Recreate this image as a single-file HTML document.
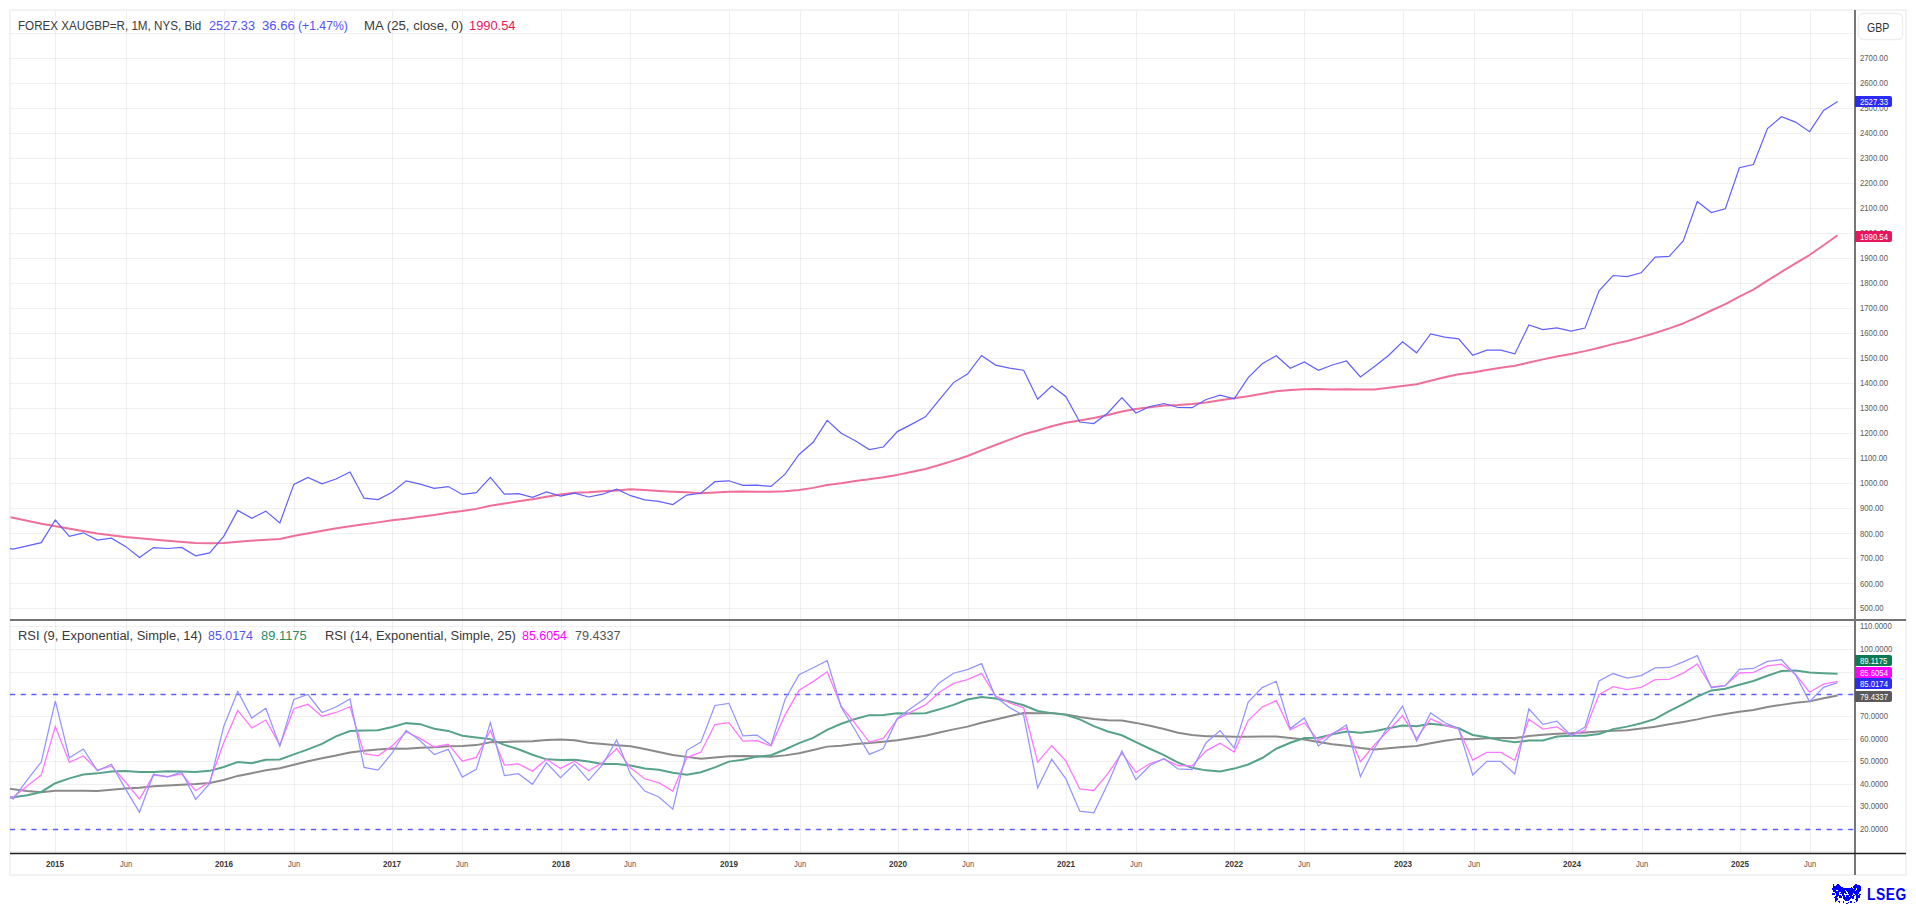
<!DOCTYPE html><html><head><meta charset="utf-8"><style>
html,body{margin:0;padding:0;background:#fff;width:1916px;height:905px;overflow:hidden}
body{position:relative;font-family:"Liberation Sans",sans-serif}
.t{position:absolute;white-space:nowrap;line-height:12px;font-size:12px;transform-origin:0 0}
.ax{position:absolute;left:1860px;font-size:9px;color:#5a5a5a;white-space:nowrap;line-height:9px;transform:scaleX(0.86);transform-origin:0 0}
.tag{position:absolute;left:1855px;width:37px;height:11px;border-radius:0 2px 2px 0}
.tg{position:absolute;left:1860.3px;font-size:9px;line-height:9px;color:#fff;white-space:nowrap;transform-origin:0 0}
.tl{position:absolute;font-size:9px;line-height:9px;white-space:nowrap;transform-origin:0 0}
</style></head><body>

<svg width="1916" height="905" style="position:absolute;left:0;top:0">
<defs><clipPath id="cp"><rect x="10" y="11" width="1844.5" height="608"/></clipPath><clipPath id="cr"><rect x="10" y="621" width="1844.5" height="232"/></clipPath></defs>
<rect x="10" y="10" width="1896" height="865" fill="none" stroke="#f2f2f2" stroke-width="2"/>
<path d="M10 608.5 H1854 M10 583.5 H1854 M10 558.5 H1854 M10 533.5 H1854 M10 508.5 H1854 M10 483.5 H1854 M10 458.5 H1854 M10 433.5 H1854 M10 408.5 H1854 M10 383.5 H1854 M10 358.5 H1854 M10 333.5 H1854 M10 308.5 H1854 M10 283.5 H1854 M10 258.5 H1854 M10 233.5 H1854 M10 208.5 H1854 M10 183.5 H1854 M10 158.5 H1854 M10 133.5 H1854 M10 108.5 H1854 M10 83.5 H1854 M10 58.5 H1854 M10 33.5 H1854 M10 626.5 H1854 M10 649.5 H1854 M10 672.5 H1854 M10 694.5 H1854 M10 716.5 H1854 M10 739.5 H1854 M10 761.5 H1854 M10 784.5 H1854 M10 806.5 H1854 M10 829.5 H1854 M10 851.5 H1854" stroke="#000" stroke-opacity="0.058" stroke-width="1" fill="none"/>
<path d="M55.5 11 V619 M55.5 621 V853 M126.5 11 V619 M126.5 621 V853 M224.5 11 V619 M224.5 621 V853 M294.5 11 V619 M294.5 621 V853 M392.5 11 V619 M392.5 621 V853 M462.5 11 V619 M462.5 621 V853 M561.5 11 V619 M561.5 621 V853 M630.5 11 V619 M630.5 621 V853 M729.5 11 V619 M729.5 621 V853 M800.5 11 V619 M800.5 621 V853 M898.5 11 V619 M898.5 621 V853 M968.5 11 V619 M968.5 621 V853 M1066.5 11 V619 M1066.5 621 V853 M1136.5 11 V619 M1136.5 621 V853 M1234.5 11 V619 M1234.5 621 V853 M1304.5 11 V619 M1304.5 621 V853 M1403.5 11 V619 M1403.5 621 V853 M1474.5 11 V619 M1474.5 621 V853 M1572.5 11 V619 M1572.5 621 V853 M1642.5 11 V619 M1642.5 621 V853 M1740.5 11 V619 M1740.5 621 V853 M1810.5 11 V619 M1810.5 621 V853" stroke="#000" stroke-opacity="0.058" stroke-width="1" fill="none"/>
<path d="M10 694.5 H1854" stroke="#5c5cff" stroke-width="1.4" stroke-dasharray="5 5.75" fill="none"/>
<path d="M10 829.5 H1854" stroke="#5c5cff" stroke-width="1.4" stroke-dasharray="5 5.75" fill="none"/>
<g clip-path="url(#cp)">
<path d="M10.6 517.3 L41.4 523.8 L97.1 533.6 L125.3 537 L167.3 540.7 L195.5 542.9 L210.5 543.2 L223.7 543 L250 540.8 L279.9 538.9 L294.5 535.8 L336.5 528.3 L350.01 526.27 L364.05 524.23 L378.08 522.38 L392.12 520.36 L406.15 518.8 L420.18 516.71 L434.22 514.93 L448.25 512.79 L462.29 511.04 L476.32 508.88 L490.35 505.68 L504.39 503.54 L518.42 501.35 L532.46 499.34 L546.49 496.79 L560.52 494.52 L574.56 492.8 L588.59 492.26 L602.63 491.3 L616.66 490.42 L630.69 489.33 L644.73 489.95 L658.76 490.9 L672.8 491.73 L686.83 492.37 L700.86 493.22 L714.9 492.56 L728.93 491.81 L742.97 491.54 L757 491.71 L771.03 491.8 L785.07 491.24 L799.1 489.96 L813.14 487.87 L827.17 484.98 L841.2 483.22 L855.24 481.08 L869.27 479.32 L883.31 477.3 L897.34 474.89 L911.37 472.02 L925.41 468.96 L939.44 465.07 L953.48 460.6 L967.51 456 L981.54 450.39 L995.58 445 L1009.61 439.68 L1023.65 434.31 L1037.68 430.48 L1051.71 426.19 L1065.75 422.78 L1079.78 420.43 L1093.82 417.96 L1107.85 415.07 L1121.88 411.52 L1135.92 409.07 L1149.95 407.15 L1163.99 405.6 L1178.02 405.08 L1192.05 404.06 L1206.09 402.41 L1220.12 400.24 L1234.16 398.31 L1248.19 396.15 L1262.22 393.72 L1276.26 391.28 L1290.29 390.02 L1304.33 389.2 L1318.36 389.05 L1332.39 389.43 L1346.43 389.27 L1360.46 389.62 L1374.5 389.47 L1388.53 387.72 L1402.56 385.94 L1416.6 384.19 L1430.63 380.67 L1444.67 377.21 L1458.7 374.25 L1472.73 372.55 L1486.77 370.04 L1500.8 367.79 L1514.84 365.8 L1528.87 362.5 L1542.9 359.38 L1556.94 356.51 L1570.97 353.96 L1585.01 351.13 L1599.04 347.66 L1613.07 344.13 L1627.11 340.97 L1641.14 337.15 L1655.18 332.96 L1669.21 328.4 L1683.24 323.44 L1697.28 317.06 L1711.31 310.48 L1725.35 304.17 L1739.38 296.66 L1753.41 289.57 L1767.45 280.6 L1781.48 271.91 L1795.52 263.31 L1809.55 255.02 L1823.58 245.23 L1837.62 235.28" stroke="#ef6f99" stroke-width="2" fill="none" stroke-linejoin="round"/>
<path d="M-0.84 546.2 L13.2 549.2 L27.23 545.9 L41.27 542.6 L55.3 520 L69.33 536.3 L83.37 532.8 L97.4 540.1 L111.44 538.2 L125.47 546.4 L139.5 557.4 L153.54 547.6 L167.57 548.5 L181.61 547.4 L195.64 555.8 L209.67 552.9 L223.71 536.3 L237.74 510.4 L251.78 518.2 L265.81 511.1 L279.84 522.9 L293.88 484.4 L307.91 477.5 L321.95 483.8 L335.98 479 L350.01 472 L364.05 498.2 L378.08 499.6 L392.12 492.3 L406.15 480.8 L420.18 484.1 L434.22 488.3 L448.25 486.6 L462.29 494.4 L476.32 492.6 L490.35 477.3 L504.39 494.2 L518.42 493.6 L532.46 497.3 L546.49 492 L560.52 496.1 L574.56 493.2 L588.59 497 L602.63 494.2 L616.66 489.1 L630.69 495.7 L644.73 499.8 L658.76 501.3 L672.8 504.5 L686.83 495.1 L700.86 493.3 L714.9 481.7 L728.93 480.8 L742.97 485.4 L757 485.2 L771.03 486.4 L785.07 474.2 L799.1 454.5 L813.14 442.3 L827.17 420.4 L841.2 433.2 L855.24 440.7 L869.27 449.5 L883.31 447 L897.34 431.6 L911.37 424.4 L925.41 416.8 L939.44 399.6 L953.48 382.6 L967.51 374 L981.54 355.5 L995.58 365.1 L1009.61 368.2 L1023.65 370.2 L1037.68 399.3 L1051.71 386.1 L1065.75 396.5 L1079.78 422 L1093.82 423.6 L1107.85 413 L1121.88 397.6 L1135.92 413 L1149.95 406.5 L1163.99 403.5 L1178.02 407.5 L1192.05 407.7 L1206.09 399.5 L1220.12 395.1 L1234.16 398.8 L1248.19 377.6 L1262.22 363.7 L1276.26 355.7 L1290.29 368.3 L1304.33 362 L1318.36 370.3 L1332.39 365 L1346.43 361 L1360.46 377 L1374.5 366.4 L1388.53 355.5 L1402.56 341.7 L1416.6 352.8 L1430.63 334 L1444.67 337.1 L1458.7 338.9 L1472.73 355.2 L1486.77 350.2 L1500.8 350.2 L1514.84 353.9 L1528.87 325 L1542.9 329.6 L1556.94 327.8 L1570.97 331.2 L1585.01 328.1 L1599.04 290.9 L1613.07 275.5 L1627.11 276.7 L1641.14 272.8 L1655.18 257.2 L1669.21 256.3 L1683.24 240.9 L1697.28 201.5 L1711.31 212.5 L1725.35 208.8 L1739.38 167.7 L1753.41 164.5 L1767.45 128.5 L1781.48 116.7 L1795.52 122.1 L1809.55 131.7 L1823.58 110.4 L1837.62 101.5" stroke="#6060ff" stroke-width="1.2" fill="none"/>
</g><g clip-path="url(#cr)">
<path d="M-0.84 787.44 L13.2 789.17 L27.23 790.91 L41.27 792.21 L55.3 790.77 L69.33 790.86 L83.37 790.7 L97.4 791.02 L111.44 789.64 L125.47 788.44 L139.5 787.85 L153.54 786.3 L167.57 785.56 L181.61 784.71 L195.64 784.12 L209.67 782.97 L223.71 780 L237.74 775.91 L251.78 773.2 L265.81 770.23 L279.84 768.21 L293.88 764.71 L307.91 761.25 L321.95 758.27 L335.98 755.58 L350.01 752.54 L364.05 750.81 L378.08 749.6 L392.12 748.43 L406.15 748.65 L420.18 747.69 L434.22 747.33 L448.25 746.29 L462.29 746.1 L476.32 745.11 L490.35 742.37 L504.39 741.97 L518.42 741.46 L532.46 741.35 L546.49 740.09 L560.52 739.56 L574.56 740.29 L588.59 742.7 L602.63 744.09 L616.66 745.23 L630.69 746.15 L644.73 748.96 L658.76 752.09 L672.8 755.07 L686.83 756.87 L700.86 758.69 L714.9 757.52 L728.93 756.2 L742.97 756.01 L757 756.36 L771.03 756.66 L785.07 755.38 L799.1 753.23 L813.14 750.04 L827.17 746.62 L841.2 745.65 L855.24 743.99 L869.27 743.11 L883.31 741.8 L897.34 740.2 L911.37 737.94 L925.41 735.69 L939.44 732.55 L953.48 729.38 L967.51 726.62 L981.54 722.83 L995.58 719.51 L1009.61 716.32 L1023.65 712.99 L1037.68 713.18 L1051.71 712.92 L1065.75 714.37 L1079.78 717.02 L1093.82 718.99 L1107.85 720.31 L1121.88 720.59 L1135.92 722.89 L1149.95 725.82 L1163.99 728.92 L1178.02 732.67 L1192.05 735.06 L1206.09 736.15 L1220.12 736.2 L1234.16 736.74 L1248.19 736.79 L1262.22 736.6 L1276.26 736.43 L1290.29 737.94 L1304.33 739.51 L1318.36 741.95 L1332.39 744.35 L1346.43 745.63 L1360.46 747.98 L1374.5 749.46 L1388.53 748.19 L1402.56 746.99 L1416.6 746.09 L1430.63 743.29 L1444.67 740.67 L1458.7 738.88 L1472.73 739.17 L1486.77 738.36 L1500.8 737.92 L1514.84 737.96 L1528.87 736.11 L1542.9 734.64 L1556.94 733.68 L1570.97 733.36 L1585.01 732.49 L1599.04 731.45 L1613.07 730.64 L1627.11 730.19 L1641.14 728.5 L1655.18 726.78 L1669.21 724.32 L1683.24 721.92 L1697.28 719.36 L1711.31 716.37 L1725.35 714 L1739.38 711.7 L1753.41 709.97 L1767.45 707.07 L1781.48 704.88 L1795.52 702.85 L1809.55 701.38 L1823.58 698.35 L1837.62 695.51" stroke="#8a8a8a" stroke-width="2" fill="none"/>
<path d="M-0.84 799.14 L13.2 797.17 L27.23 795.2 L41.27 791.94 L55.3 783.26 L69.33 778.33 L83.37 774.45 L97.4 773.37 L111.44 771.53 L125.47 770.93 L139.5 772.02 L153.54 771.95 L167.57 771.29 L181.61 771.41 L195.64 771.95 L209.67 770.86 L223.71 767.03 L237.74 761.99 L251.78 763.21 L265.81 759.67 L279.84 759.47 L293.88 754.37 L307.91 749.39 L321.95 743.93 L335.98 736.41 L350.01 731.05 L364.05 730.38 L378.08 730.26 L392.12 726.95 L406.15 723.13 L420.18 724.15 L434.22 728.66 L448.25 730.89 L462.29 735.81 L476.32 737.47 L490.35 739.12 L504.39 744.91 L518.42 749.28 L532.46 754.8 L546.49 759.35 L560.52 760.08 L574.56 759.65 L588.59 761.6 L602.63 764.06 L616.66 764 L630.69 765.42 L644.73 768.4 L658.76 769.82 L672.8 772.66 L686.83 774.65 L700.86 772.26 L714.9 767.38 L728.93 761.6 L742.97 759.68 L757 756.64 L771.03 755.27 L785.07 749.5 L799.1 743.08 L813.14 737.92 L827.17 729.79 L841.2 723.8 L855.24 719.04 L869.27 715.13 L883.31 715 L897.34 713.31 L911.37 713.49 L925.41 713.13 L939.44 709.33 L953.48 704.91 L967.51 699.52 L981.54 696.97 L995.58 698.55 L1009.61 701.4 L1023.65 705.3 L1037.68 711.05 L1051.71 713.13 L1065.75 714.86 L1079.78 719.34 L1093.82 726.08 L1107.85 731.49 L1121.88 735.26 L1135.92 742.19 L1149.95 748.78 L1163.99 755.14 L1178.02 762.66 L1192.05 767.85 L1206.09 770.36 L1220.12 771.45 L1234.16 768.59 L1248.19 764.51 L1262.22 758.01 L1276.26 748.73 L1290.29 742.71 L1304.33 738.01 L1318.36 737.66 L1332.39 734.39 L1346.43 731.49 L1360.46 732.78 L1374.5 731.3 L1388.53 728.2 L1402.56 725.59 L1416.6 726.34 L1430.63 723.85 L1444.67 725.3 L1458.7 728.25 L1472.73 734.94 L1486.77 737.28 L1500.8 740.37 L1514.84 742.36 L1528.87 740.57 L1542.9 740.53 L1556.94 736.57 L1570.97 735.66 L1585.01 735.73 L1599.04 733.94 L1613.07 729.12 L1627.11 726.62 L1641.14 723.27 L1655.18 718.92 L1669.21 711.23 L1683.24 704.13 L1697.28 696.57 L1711.31 690.42 L1725.35 688.76 L1739.38 684.82 L1753.41 681.05 L1767.45 675.75 L1781.48 670.94 L1795.52 670.49 L1809.55 672.5 L1823.58 673.16 L1837.62 673.66" stroke="#57a38a" stroke-width="2" fill="none"/>
<path d="M-0.84 799 L13.2 797.04 L27.23 785.96 L41.27 775.08 L55.3 726.48 L69.33 762.4 L83.37 755.97 L97.4 770.19 L111.44 765.97 L125.47 781.98 L139.5 799.17 L153.54 775.06 L167.57 776.72 L181.61 773.78 L195.64 790.75 L209.67 781.82 L223.71 742.82 L237.74 710.42 L251.78 728 L265.81 720.02 L279.84 745.1 L293.88 708.67 L307.91 704.34 L321.95 716.45 L335.98 712.48 L350.01 706.77 L364.05 753.73 L378.08 755.77 L392.12 745.89 L406.15 731.93 L420.18 738.42 L434.22 746.94 L448.25 744.16 L462.29 761.2 L476.32 757.42 L490.35 730.53 L504.39 765.09 L518.42 763.95 L532.46 771.11 L546.49 759.3 L560.52 768.45 L574.56 761.17 L588.59 770.72 L602.63 762.58 L616.66 748.58 L630.69 768.13 L644.73 778.77 L658.76 782.65 L672.8 790.98 L686.83 757.57 L700.86 752.21 L714.9 724.51 L728.93 722.73 L742.97 741.18 L757 740.62 L771.03 746.01 L785.07 714.91 L799.1 690.31 L813.14 681.63 L827.17 671.77 L841.2 706.23 L855.24 723.56 L869.27 742.03 L883.31 738.44 L897.34 719.22 L911.37 711.93 L925.41 704.87 L939.44 692.22 L953.48 683.37 L967.51 679.71 L981.54 673.3 L995.58 695.75 L1009.61 702.89 L1023.65 707.84 L1037.68 762.19 L1051.71 745.69 L1065.75 760.75 L1079.78 789 L1093.82 790.51 L1107.85 773.66 L1121.88 752.93 L1135.92 772.48 L1149.95 763.51 L1163.99 759.24 L1178.02 765.48 L1192.05 765.82 L1206.09 750.81 L1220.12 743.31 L1234.16 752.06 L1248.19 720.54 L1262.22 707.11 L1276.26 700.68 L1290.29 729.83 L1304.33 722.7 L1318.36 740.64 L1332.39 733.3 L1346.43 727.81 L1360.46 761.72 L1374.5 744.79 L1388.53 730.32 L1402.56 715.62 L1416.6 738.45 L1430.63 718.85 L1444.67 725.08 L1458.7 728.98 L1472.73 760.15 L1486.77 752.32 L1500.8 752.32 L1514.84 760.25 L1528.87 719.21 L1542.9 729.06 L1556.94 726.83 L1570.97 735.28 L1585.01 730.38 L1599.04 694.62 L1613.07 686.72 L1627.11 689.61 L1641.14 687.4 L1655.18 679.72 L1669.21 679.32 L1683.24 673.08 L1697.28 664.03 L1711.31 686.91 L1725.35 685.38 L1739.38 673.01 L1753.41 672.3 L1767.45 665.86 L1781.48 664.27 L1795.52 674.34 L1809.55 692.24 L1823.58 684.21 L1837.62 681.32" stroke="#ff77ff" stroke-width="1.3" fill="none"/>
<path d="M-0.84 788 L13.2 799.09 L27.23 779.98 L41.27 762.01 L55.3 701.03 L69.33 757.77 L83.37 748.99 L97.4 770.79 L111.44 764.27 L125.47 788.93 L139.5 812.23 L153.54 774.19 L167.57 776.8 L181.61 771.91 L195.64 799.31 L209.67 783.75 L223.71 726.47 L237.74 691.42 L251.78 718.08 L265.81 708.27 L279.84 746.14 L293.88 699.41 L307.91 694.51 L321.95 712.5 L335.98 706.99 L350.01 699.08 L364.05 767.46 L378.08 770.18 L392.12 752.98 L406.15 730.29 L420.18 740.75 L434.22 754.59 L448.25 749.34 L462.29 777.1 L476.32 769.39 L490.35 722.47 L504.39 775.61 L518.42 773.68 L532.46 784.29 L546.49 762.82 L560.52 777.65 L574.56 764.12 L588.59 780.32 L602.63 764.67 L616.66 739.99 L630.69 774.47 L644.73 791.06 L658.76 796.93 L672.8 809.19 L686.83 750.31 L700.86 742.12 L714.9 705.44 L728.93 703.37 L742.97 735.94 L757 735.05 L771.03 744.99 L785.07 699.41 L799.1 674.81 L813.14 667.77 L827.17 660.69 L841.2 707.23 L855.24 730.22 L869.27 754.41 L883.31 748.49 L897.34 718.46 L911.37 708.06 L925.41 698.32 L939.44 682.66 L953.48 673.21 L967.51 669.57 L981.54 663.67 L995.58 696.96 L1009.61 707.6 L1023.65 715.29 L1037.68 787.81 L1051.71 759.31 L1065.75 778.66 L1079.78 811.18 L1093.82 812.82 L1107.85 783.83 L1121.88 751.05 L1135.92 779.78 L1149.95 765.47 L1163.99 758.56 L1178.02 768.99 L1192.05 769.58 L1206.09 742.71 L1220.12 730.54 L1234.16 747.83 L1248.19 702.17 L1262.22 687.6 L1276.26 681.26 L1290.29 728.61 L1304.33 718.05 L1318.36 746.1 L1332.39 733.95 L1346.43 724.98 L1360.46 776.61 L1374.5 748.23 L1388.53 726.19 L1402.56 706.14 L1416.6 741.02 L1430.63 712.99 L1444.67 722.53 L1458.7 728.78 L1472.73 775.02 L1486.77 761.35 L1500.8 761.35 L1514.84 773.95 L1528.87 708.89 L1542.9 724.43 L1556.94 721.12 L1570.97 735.52 L1585.01 727.16 L1599.04 681 L1613.07 673.54 L1627.11 678.02 L1641.14 675.62 L1655.18 667.86 L1669.21 667.47 L1683.24 661.86 L1697.28 655.58 L1711.31 687.82 L1725.35 685.57 L1739.38 669.29 L1753.41 668.45 L1767.45 661.33 L1781.48 659.73 L1795.52 674.75 L1809.55 701.6 L1823.58 687.36 L1837.62 682.61" stroke="#9494ff" stroke-width="1.25" fill="none"/>
</g>
<path d="M1855 10 V875" stroke="#5f5f5f" stroke-width="1.7" fill="none"/>
<path d="M10 620 H1906" stroke="#747474" stroke-width="2" fill="none"/>
<path d="M10 853.5 H1906" stroke="#202020" stroke-width="1.7" fill="none"/>
<rect x="1858.5" y="13.5" width="44" height="26" rx="4.5" fill="#fff" stroke="#efefef" stroke-width="1.5"/>
</svg>
<div class="t" style="left:17.7px;top:20px;color:#3a3a3a;transform:scaleX(0.969)">FOREX XAUGBP=R, 1M, NYS, Bid</div>
<div class="t" style="left:209.2px;top:20px;color:#5252f2;transform:scaleX(1.060)">2527.33</div>
<div class="t" style="left:261.7px;top:20px;color:#5252f2;transform:scaleX(1.093)">36.66</div>
<div class="t" style="left:297.9px;top:20px;color:#5252f2;transform:scaleX(1.017)">(+1.47%)</div>
<div class="t" style="left:363.9px;top:20px;color:#3a3a3a;transform:scaleX(1.100)">MA (25, close, 0)</div>
<div class="t" style="left:468.9px;top:20px;color:#e8175d;transform:scaleX(1.071)">1990.54</div>
<div class="t" style="left:17.7px;top:630px;color:#3a3a3a;transform:scaleX(1.078)">RSI (9, Exponential, Simple, 14)</div>
<div class="t" style="left:208.4px;top:630px;color:#5252f2;transform:scaleX(1.035)">85.0174</div>
<div class="t" style="left:260.9px;top:630px;color:#2d8a63;transform:scaleX(1.074)">89.1175</div>
<div class="t" style="left:324.5px;top:630px;color:#3a3a3a;transform:scaleX(1.076)">RSI (14, Exponential, Simple, 25)</div>
<div class="t" style="left:522.0px;top:630px;color:#ff00ff;transform:scaleX(1.035)">85.6054</div>
<div class="t" style="left:575.0px;top:630px;color:#555;transform:scaleX(1.050)">79.4337</div>
<div class="t" style="left:1867px;top:22px;color:#333;transform:scaleX(0.88)">GBP</div>
<div class="ax" style="top:604px">500.00</div>
<div class="ax" style="top:580px">600.00</div>
<div class="ax" style="top:554px">700.00</div>
<div class="ax" style="top:530px">800.00</div>
<div class="ax" style="top:504px">900.00</div>
<div class="ax" style="top:479px">1000.00</div>
<div class="ax" style="top:454px">1100.00</div>
<div class="ax" style="top:429px">1200.00</div>
<div class="ax" style="top:404px">1300.00</div>
<div class="ax" style="top:379px">1400.00</div>
<div class="ax" style="top:354px">1500.00</div>
<div class="ax" style="top:329px">1600.00</div>
<div class="ax" style="top:304px">1700.00</div>
<div class="ax" style="top:279px">1800.00</div>
<div class="ax" style="top:254px">1900.00</div>
<div class="ax" style="top:229px">2000.00</div>
<div class="ax" style="top:204px">2100.00</div>
<div class="ax" style="top:179px">2200.00</div>
<div class="ax" style="top:154px">2300.00</div>
<div class="ax" style="top:129px">2400.00</div>
<div class="ax" style="top:104px">2500.00</div>
<div class="ax" style="top:79px">2600.00</div>
<div class="ax" style="top:54px">2700.00</div>
<div class="ax" style="top:622px">110.0000</div>
<div class="ax" style="top:645px">100.0000</div>
<div class="ax" style="top:712px">70.0000</div>
<div class="ax" style="top:735px">60.0000</div>
<div class="ax" style="top:757px">50.0000</div>
<div class="ax" style="top:780px">40.0000</div>
<div class="ax" style="top:802px">30.0000</div>
<div class="ax" style="top:825px">20.0000</div>
<div class="tl" style="left:46.0px;top:860px;font-weight:bold;color:#383838;transform:scaleX(0.9)">2015</div>
<div class="tl" style="left:120.1px;top:860px;color:#555;transform:scaleX(0.84)">Jun</div>
<div class="tl" style="left:215.0px;top:860px;font-weight:bold;color:#383838;transform:scaleX(0.9)">2016</div>
<div class="tl" style="left:288.1px;top:860px;color:#555;transform:scaleX(0.84)">Jun</div>
<div class="tl" style="left:383.0px;top:860px;font-weight:bold;color:#383838;transform:scaleX(0.9)">2017</div>
<div class="tl" style="left:456.1px;top:860px;color:#555;transform:scaleX(0.84)">Jun</div>
<div class="tl" style="left:552.0px;top:860px;font-weight:bold;color:#383838;transform:scaleX(0.9)">2018</div>
<div class="tl" style="left:624.1px;top:860px;color:#555;transform:scaleX(0.84)">Jun</div>
<div class="tl" style="left:720.0px;top:860px;font-weight:bold;color:#383838;transform:scaleX(0.9)">2019</div>
<div class="tl" style="left:794.1px;top:860px;color:#555;transform:scaleX(0.84)">Jun</div>
<div class="tl" style="left:889.0px;top:860px;font-weight:bold;color:#383838;transform:scaleX(0.9)">2020</div>
<div class="tl" style="left:962.1px;top:860px;color:#555;transform:scaleX(0.84)">Jun</div>
<div class="tl" style="left:1057.0px;top:860px;font-weight:bold;color:#383838;transform:scaleX(0.9)">2021</div>
<div class="tl" style="left:1130.1px;top:860px;color:#555;transform:scaleX(0.84)">Jun</div>
<div class="tl" style="left:1225.0px;top:860px;font-weight:bold;color:#383838;transform:scaleX(0.9)">2022</div>
<div class="tl" style="left:1298.1px;top:860px;color:#555;transform:scaleX(0.84)">Jun</div>
<div class="tl" style="left:1394.0px;top:860px;font-weight:bold;color:#383838;transform:scaleX(0.9)">2023</div>
<div class="tl" style="left:1468.1px;top:860px;color:#555;transform:scaleX(0.84)">Jun</div>
<div class="tl" style="left:1563.0px;top:860px;font-weight:bold;color:#383838;transform:scaleX(0.9)">2024</div>
<div class="tl" style="left:1636.1px;top:860px;color:#555;transform:scaleX(0.84)">Jun</div>
<div class="tl" style="left:1731.0px;top:860px;font-weight:bold;color:#383838;transform:scaleX(0.9)">2025</div>
<div class="tl" style="left:1804.1px;top:860px;color:#555;transform:scaleX(0.84)">Jun</div>
<div class="tag" style="top:96px;height:11px;background:#2b2bf5"></div>
<div class="tg" style="top:98.0px;transform:scaleX(0.86)">2527.33</div>
<div class="tag" style="top:231px;height:11px;background:#e8175d"></div>
<div class="tg" style="top:233.0px;transform:scaleX(0.86)">1990.54</div>
<div class="tag" style="top:655px;height:11px;background:#0e7a55"></div>
<div class="tg" style="top:657.0px;transform:scaleX(0.86)">89.1175</div>
<div class="tag" style="top:667px;height:11px;background:#ff00ff"></div>
<div class="tg" style="top:669.0px;transform:scaleX(0.86)">85.6054</div>
<div class="tag" style="top:678px;height:11px;background:#2b2bf5"></div>
<div class="tg" style="top:680.0px;transform:scaleX(0.86)">85.0174</div>
<div class="tag" style="top:691px;height:11px;background:#5a5a5a"></div>
<div class="tg" style="top:693.0px;transform:scaleX(0.86)">79.4337</div>
<svg width="34" height="23" style="position:absolute;left:1830px;top:882px" shape-rendering="crispEdges"><g fill="#0000ff"><rect x="3" y="2" width="1" height="1"/><rect x="7" y="2" width="2" height="1"/><rect x="25" y="2" width="2" height="1"/><rect x="3" y="3" width="1" height="1"/><rect x="6" y="3" width="4" height="1"/><rect x="24" y="3" width="6" height="1"/><rect x="3" y="4" width="3" height="1"/><rect x="6" y="4" width="5" height="1"/><rect x="23" y="4" width="8" height="1"/><rect x="3" y="5" width="10" height="1"/><rect x="21" y="5" width="1" height="1"/><rect x="23" y="5" width="8" height="1"/><rect x="2" y="6" width="21" height="1"/><rect x="24" y="6" width="2" height="1"/><rect x="27" y="6" width="4" height="1"/><rect x="2" y="7" width="24" height="1"/><rect x="27" y="7" width="4" height="1"/><rect x="3" y="8" width="3" height="1"/><rect x="8" y="8" width="7" height="1"/><rect x="16" y="8" width="9" height="1"/><rect x="26" y="8" width="5" height="1"/><rect x="3" y="9" width="13" height="1"/><rect x="17" y="9" width="13" height="1"/><rect x="5" y="10" width="4" height="1"/><rect x="11" y="10" width="5" height="1"/><rect x="18" y="10" width="11" height="1"/><rect x="2" y="11" width="3" height="1"/><rect x="6" y="11" width="3" height="1"/><rect x="10" y="11" width="4" height="1"/><rect x="15" y="11" width="2" height="1"/><rect x="18" y="11" width="5" height="1"/><rect x="24" y="11" width="5" height="1"/><rect x="2" y="12" width="3" height="1"/><rect x="6" y="12" width="3" height="1"/><rect x="12" y="12" width="2" height="1"/><rect x="19" y="12" width="4" height="1"/><rect x="25" y="12" width="3" height="1"/><rect x="29" y="12" width="2" height="1"/><rect x="6" y="13" width="5" height="1"/><rect x="12" y="13" width="3" height="1"/><rect x="16" y="13" width="6" height="1"/><rect x="23" y="13" width="2" height="1"/><rect x="26" y="13" width="4" height="1"/><rect x="5" y="14" width="3" height="1"/><rect x="9" y="14" width="3" height="1"/><rect x="13" y="14" width="2" height="1"/><rect x="16" y="14" width="3" height="1"/><rect x="20" y="14" width="4" height="1"/><rect x="26" y="14" width="4" height="1"/><rect x="4" y="15" width="3" height="1"/><rect x="9" y="15" width="3" height="1"/><rect x="13" y="15" width="11" height="1"/><rect x="26" y="15" width="4" height="1"/><rect x="5" y="16" width="3" height="1"/><rect x="13" y="16" width="8" height="1"/><rect x="22" y="16" width="2" height="1"/><rect x="26" y="16" width="2" height="1"/><rect x="5" y="17" width="3" height="1"/><rect x="14" y="17" width="6" height="1"/><rect x="25" y="17" width="3" height="1"/><rect x="5" y="18" width="2" height="1"/><rect x="15" y="18" width="4" height="1"/><rect x="26" y="18" width="2" height="1"/><rect x="5" y="19" width="1" height="1"/><rect x="8" y="19" width="2" height="1"/><rect x="13" y="19" width="1" height="1"/><rect x="20" y="19" width="2" height="1"/><rect x="26" y="19" width="1" height="1"/><rect x="9" y="20" width="1" height="1"/><rect x="13" y="20" width="1" height="1"/><rect x="18" y="20" width="1" height="1"/><rect x="20" y="20" width="2" height="1"/><rect x="24" y="20" width="1" height="1"/><rect x="16" y="21" width="2" height="1"/></g></svg>
<div class="t" style="left:1867px;top:887px;font-size:16px;line-height:16px;font-weight:bold;color:#0000ff;letter-spacing:0.6px;transform:scaleX(0.865)">LSEG</div>
</body></html>
